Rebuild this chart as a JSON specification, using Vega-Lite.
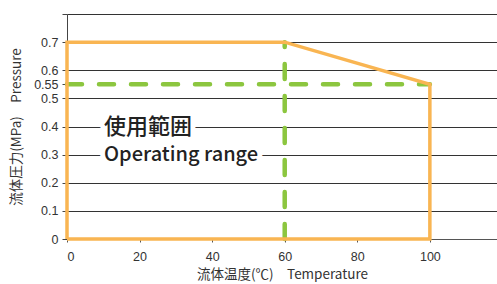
{
  "$schema": "https://vega.github.io/schema/vega-lite/v6.json",
  "width": 430,
  "height": 225,
  "autosize": "none",
  "padding": {"left": 67, "top": 14, "right": 0, "bottom": 45},
  "background": "white",
  "config": {
    "view": {"stroke": null},
    "font": "Noto Sans CJK JP",
    "axis": {"labelFont": "Liberation Sans", "titleFont": "Noto Sans CJK JP", "labelColor": "#333333", "titleColor": "#333333", "titleFontWeight": "normal"}
  },
  "encoding": {
    "x": {
      "field": "temp", "type": "quantitative",
      "scale": {"domain": [0, 118.5], "nice": false, "zero": false},
      "axis": {
        "title": "流体温度(℃)　Temperature",
        "values": [0, 20, 40, 60, 80, 100],
        "grid": false,
        "domainColor": "#555555",
        "tickColor": "#555555",
        "tickSize": 3,
        "labelFontSize": 12.5,
        "titleFontSize": 13.5,
        "labelPadding": 8,
        "titlePadding": 5
      }
    },
    "y": {
      "field": "pressure", "type": "quantitative",
      "scale": {"domain": [0, 0.8], "nice": false},
      "axis": {
        "title": "流体圧力(MPa)　Pressure",
        "values": [0, 0.1, 0.2, 0.3, 0.4, 0.5, 0.55, 0.6, 0.7, 0.8],
        "labelExpr": "datum.value == 0.8 ? '' : format(datum.value, '.2~f')",
        "grid": true,
        "gridColor": "#333333",
        "gridWidth": 1,
        "gridOpacity": {"condition": {"test": "datum.value == 0.55 || datum.value == 0", "value": 0}, "value": 1},
        "domainColor": "#444444",
        "tickColor": "#444444",
        "tickSize": 5,
        "labelFontSize": 12.5,
        "titleFontSize": 13.5,
        "labelPadding": 4,
        "titlePadding": 10
      }
    }
  },
  "layer": [
    {
      "data": {"values": [
        {"line": "h", "temp": 0, "pressure": 0.55},
        {"line": "h", "temp": 100, "pressure": 0.55},
        {"line": "v", "temp": 60, "pressure": 0},
        {"line": "v", "temp": 60, "pressure": 0.7}
      ]},
      "mark": {"type": "line", "color": "#8CC63F", "strokeWidth": 4.5, "strokeDash": [15, 17], "strokeCap": "round"},
      "encoding": {"detail": {"field": "line"}}
    },
    {
      "data": {"values": [
        {"step": 1, "temp": 0, "pressure": 0},
        {"step": 2, "temp": 0, "pressure": 0.7},
        {"step": 3, "temp": 60, "pressure": 0.7},
        {"step": 4, "temp": 100, "pressure": 0.55},
        {"step": 5, "temp": 100, "pressure": 0},
        {"step": 6, "temp": 0, "pressure": 0}
      ]},
      "mark": {"type": "line", "color": "#F9B552", "strokeWidth": 3.5, "strokeJoin": "miter"},
      "encoding": {"order": {"field": "step"}}
    },
    {
      "data": {"values": [
        {"lang": "ja", "label": "使用範囲", "temp": 10.2, "pressure": 0.4},
        {"lang": "en", "label": "Operating range", "temp": 10.2, "pressure": 0.3}
      ]},
      "layer": [
        {
          "mark": {"type": "text", "align": "left", "baseline": "middle", "fill": "white", "stroke": "white", "strokeWidth": 10, "font": "Noto Sans CJK JP", "fontWeight": 500},
          "encoding": {
            "text": {"field": "label"},
            "size": {"condition": {"test": "datum.lang == 'ja'", "value": 22}, "value": 20}
          }
        },
        {
          "mark": {"type": "text", "align": "left", "baseline": "middle", "color": "#222222", "font": "Noto Sans CJK JP", "fontWeight": 500},
          "encoding": {
            "text": {"field": "label"},
            "size": {"condition": {"test": "datum.lang == 'ja'", "value": 22}, "value": 20}
          }
        }
      ]
    }
  ]
}
